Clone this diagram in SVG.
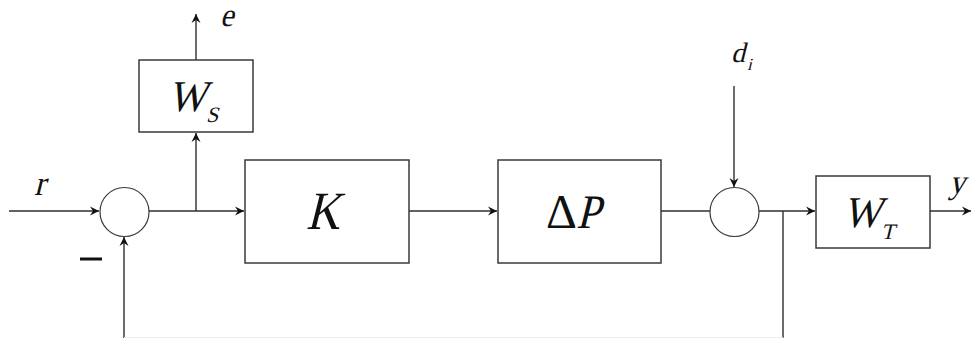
<svg xmlns="http://www.w3.org/2000/svg" width="971" height="338" viewBox="0 0 971 338">
  <style>
    .blk { fill: #ffffff; stroke: #3a3a3a; stroke-width: 1.5; }
    .sum { fill: #ffffff; stroke: #3a3a3a; stroke-width: 1.2; }
    .wire { fill: none; stroke: #2e2e2e; stroke-width: 1.4; }
    /* serif text; italic look is produced by a skew on each symbol */
    .tx { font-family: "Liberation Serif", "Times New Roman", serif; fill: #111111; }
  </style>
  <defs>
    <marker id="arr" viewBox="-10 -5 11 10" refX="0" refY="0" markerWidth="11" markerHeight="10" markerUnits="userSpaceOnUse" orient="auto">
      <path d="M0,0 L-9,-4.5 L-6,0 L-9,4.5 Z" fill="#111111"/>
    </marker>
  </defs>
  <rect width="971" height="338" fill="#ffffff"/>

  <!-- connectors -->
  <g id="connectors">
    <line class="wire" x1="9" y1="211" x2="99" y2="211" marker-end="url(#arr)"/>
    <line class="wire" x1="149" y1="211" x2="244" y2="211" marker-end="url(#arr)"/>
    <line class="wire" x1="196" y1="211" x2="196" y2="133" marker-end="url(#arr)"/>
    <line class="wire" x1="196" y1="60" x2="196" y2="14" marker-end="url(#arr)"/>
    <line class="wire" x1="409" y1="211" x2="497" y2="211" marker-end="url(#arr)"/>
    <line class="wire" x1="661" y1="211" x2="710" y2="211"/>
    <line class="wire" x1="734" y1="86" x2="734" y2="187" marker-end="url(#arr)"/>
    <line class="wire" x1="759" y1="211" x2="815" y2="211" marker-end="url(#arr)"/>
    <line class="wire" x1="783" y1="211" x2="783" y2="338"/>
    <line class="wire" x1="930" y1="211" x2="971" y2="211" marker-end="url(#arr)"/>
    <line class="wire" x1="124" y1="338" x2="124" y2="237" marker-end="url(#arr)"/>
    <line x1="124" y1="337.5" x2="783" y2="337.5" stroke="#ececec" stroke-width="1"/>
  </g>

  <!-- summing junctions -->
  <g id="sum1">
    <circle class="sum" cx="124.5" cy="212" r="24.5"/>
  </g>
  <g id="sum2">
    <circle class="sum" cx="734.5" cy="212" r="24.5"/>
  </g>

  <!-- sensitivity weight W_S -->
  <g id="ws">
    <rect class="blk" x="139" y="60" width="114" height="72"/>
    <text class="tx" font-size="44" transform="translate(168,111) skewX(-14) scale(0.92,1)">W</text>
    <text class="tx" font-size="22" transform="translate(206,122) skewX(-14)">S</text>
  </g>

  <!-- controller K -->
  <g id="k">
    <rect class="blk" x="245" y="160" width="164" height="103"/>
    <text class="tx" font-size="54" transform="translate(306,229) skewX(-14) scale(0.86,1)">K</text>
  </g>

  <!-- perturbed plant ΔP -->
  <g id="dp">
    <rect class="blk" x="498" y="160" width="163" height="103"/>
    <text class="tx" font-size="48" x="546" y="228">Δ</text>
    <text class="tx" font-size="48" transform="translate(576,228) skewX(-14) scale(0.9,1)">P</text>
  </g>

  <!-- complementary sensitivity weight W_T -->
  <g id="wt">
    <rect class="blk" x="816" y="176" width="114" height="72"/>
    <text class="tx" font-size="44" transform="translate(843,227) skewX(-14) scale(0.92,1)">W</text>
    <text class="tx" font-size="22" transform="translate(881,239) skewX(-14)">T</text>
  </g>

  <!-- signal labels -->
  <g id="labels">
    <text class="tx" font-size="33" transform="translate(220,26) skewX(-14) scale(0.92,1)">e</text>
    <text class="tx" font-size="35" transform="translate(34,195) skewX(-14) scale(0.95,1)">r</text>
    <text class="tx" font-size="34" transform="translate(949,193) skewX(-14) scale(0.95,1)">y</text>
    <text class="tx" font-size="28" transform="translate(731,62) skewX(-14)">d</text>
    <text class="tx" font-size="17" transform="translate(747,70) skewX(-14)">i</text>
    <rect x="80" y="257.5" width="22" height="3" fill="#111111"/>
  </g>
</svg>
